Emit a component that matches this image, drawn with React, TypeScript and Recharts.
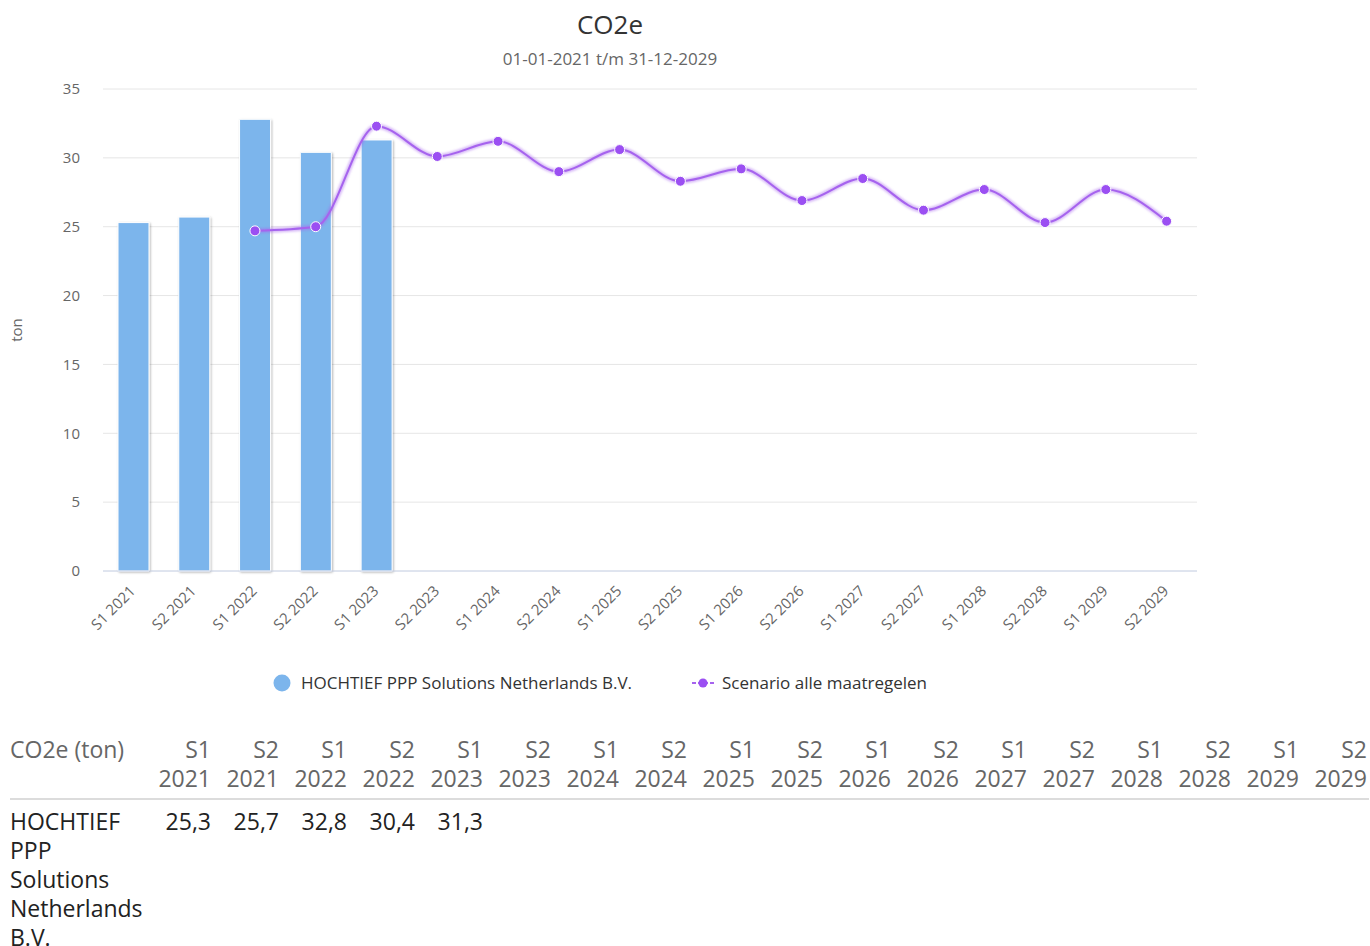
import React from "react";
import {
  ComposedChart,
  Bar,
  Line,
  XAxis,
  YAxis,
  CartesianGrid,
} from "recharts";

const categories = [
  "S1 2021", "S2 2021", "S1 2022", "S2 2022", "S1 2023", "S2 2023",
  "S1 2024", "S2 2024", "S1 2025", "S2 2025", "S1 2026", "S2 2026",
  "S1 2027", "S2 2027", "S1 2028", "S2 2028", "S1 2029", "S2 2029",
];
const actual: (number | null)[] = [
  25.3, 25.7, 32.8, 30.4, 31.3, null, null, null, null,
  null, null, null, null, null, null, null, null, null,
];
const scenario: (number | null)[] = [
  null, null, 24.7, 25.0, 32.3, 30.1, 31.2, 29.0, 30.6,
  28.3, 29.2, 26.9, 28.5, 26.2, 27.7, 25.3, 27.7, 25.4,
];
const yTicks = [0, 5, 10, 15, 20, 25, 30, 35];

const companyName = "HOCHTIEF PPP Solutions Netherlands B.V.";
const scenarioName = "Scenario alle maatregelen";

const BAR_COLOR = "#7cb5ec";
const LINE_COLOR = "#a663ee";
const DOT_COLOR = "#9b4ff2";

const data = categories.map((c, i) => ({
  name: c,
  actual: actual[i],
  scenario: scenario[i],
}));

function XTick({ x, y, payload }: any) {
  const tx = x + 3;
  const ty = y + 13;
  return (
    <text
      x={tx}
      y={ty}
      textAnchor="end"
      fill="#666"
      fontSize={15}
      transform={`rotate(-45 ${tx} ${ty})`}
    >
      {payload.value}
    </text>
  );
}

const fmt = (v: number | null) =>
  v == null ? "" : v.toFixed(1).replace(".", ",");

export default function App() {
  const font = "'Open Sans', sans-serif";
  return (
    <div style={{ fontFamily: font, width: 1370 }}>
      <style>{"body{margin:0}"}</style>
      <div style={{ position: "relative", width: 1220, height: 712 }}>
        <div
          style={{
            position: "absolute",
            top: 7,
            left: 0,
            width: 1220,
            textAlign: "center",
            fontSize: 26,
            color: "#333",
            lineHeight: "34px",
          }}
        >
          CO2e
        </div>
        <div
          style={{
            position: "absolute",
            top: 47,
            left: 0,
            width: 1220,
            textAlign: "center",
            fontSize: 17,
            color: "#666",
            lineHeight: "24px",
          }}
        >
          01-01-2021 t/m 31-12-2029
        </div>
        <ComposedChart
          width={1220}
          height={712}
          data={data}
          margin={{ top: 89, right: 23, left: 43, bottom: 61 }}
          style={{ fontFamily: font }}
        >
          <defs>
            <filter id="barShadow" x="-20%" y="-5%" width="140%" height="110%">
              <feDropShadow dx="1" dy="1" stdDeviation="1" floodColor="#000" floodOpacity="0.3" />
            </filter>
            <filter id="lineGlow" x="-5%" y="-20%" width="110%" height="140%">
              <feGaussianBlur stdDeviation="1.2" />
            </filter>
          </defs>
          <CartesianGrid vertical={false} stroke="#e6e6e6" />
          <XAxis
            dataKey="name"
            interval={0}
            height={80}
            tick={<XTick />}
            tickLine={false}
            axisLine={{ stroke: "#ccd6eb" }}
          />
          <YAxis
            domain={[0, 35]}
            ticks={yTicks}
            width={60}
            tickLine={false}
            axisLine={false}
            tickMargin={17}
            tick={{ fill: "#666", fontSize: 15 }}
            label={{
              value: "ton",
              angle: -90,
              position: "insideLeft",
              offset: -26,
              fill: "#666",
              fontSize: 15,
              textAnchor: "middle",
            }}
          />
          <Bar
            dataKey="actual"
            fill={BAR_COLOR}
            stroke="#ffffff"
            strokeWidth={1}
            barSize={31}
            filter="url(#barShadow)"
            isAnimationActive={false}
          />
          <Line
            dataKey="scenario"
            type="monotone"
            stroke={LINE_COLOR}
            strokeOpacity={0.45}
            strokeWidth={5}
            dot={false}
            activeDot={false}
            legendType="none"
            filter="url(#lineGlow)"
            isAnimationActive={false}
          />
          <Line
            dataKey="scenario"
            type="monotone"
            stroke={LINE_COLOR}
            strokeWidth={2}
            dot={{ r: 5, fill: DOT_COLOR, stroke: "#fff", strokeWidth: 1 }}
            isAnimationActive={false}
          />
        </ComposedChart>
        <div
          style={{
            position: "absolute",
            top: 671,
            left: 0,
            width: 1220,
            height: 24,
            fontSize: 17,
            color: "#333",
          }}
        >
          <svg
            width={20}
            height={20}
            style={{ position: "absolute", left: 272, top: 2 }}
          >
            <circle cx={10} cy={10} r={8.5} fill={BAR_COLOR} />
          </svg>
          <span style={{ position: "absolute", left: 301, top: 0, lineHeight: "24px" }}>
            {companyName}
          </span>
          <svg
            width={24}
            height={20}
            style={{ position: "absolute", left: 691, top: 2 }}
          >
            <line x1={1} y1={10} x2={23} y2={10} stroke={LINE_COLOR} strokeWidth={2} strokeDasharray="4 2" />
            <circle cx={12} cy={10} r={4.5} fill={DOT_COLOR} />
          </svg>
          <span style={{ position: "absolute", left: 722, top: 0, lineHeight: "24px" }}>
            {scenarioName}
          </span>
        </div>
      </div>
      <table
        style={{
          tableLayout: "fixed",
          width: 1359,
          marginLeft: 10,
          borderCollapse: "collapse",
          fontSize: 23,
          lineHeight: "29px",
          marginTop: 23,
        }}
      >
        <colgroup>
          <col style={{ width: 135 }} />
          {categories.map((c) => (
            <col key={c} style={{ width: 68 }} />
          ))}
        </colgroup>
        <thead>
          <tr style={{ borderBottom: "2px solid #dcdcdc" }}>
            <th
              style={{
                textAlign: "left",
                fontWeight: 400,
                color: "#666",
                padding: "0 0 5px 0",
                verticalAlign: "top",
                whiteSpace: "nowrap",
              }}
            >
              CO2e (ton)
            </th>
            {categories.map((c) => (
              <th
                key={c}
                style={{
                  textAlign: "right",
                  fontWeight: 400,
                  color: "#666",
                  padding: "0 2px 5px 0",
                  verticalAlign: "top",
                }}
              >
                {c}
              </th>
            ))}
          </tr>
        </thead>
        <tbody>
          <tr>
            <td style={{ padding: "7px 0 0 0", color: "#222", verticalAlign: "top" }}>
              {companyName}
            </td>
            {actual.map((v, i) => (
              <td
                key={i}
                style={{
                  textAlign: "right",
                  padding: "7px 2px 0 0",
                  color: "#222",
                  verticalAlign: "top",
                }}
              >
                {fmt(v)}
              </td>
            ))}
          </tr>
        </tbody>
      </table>
    </div>
  );
}
